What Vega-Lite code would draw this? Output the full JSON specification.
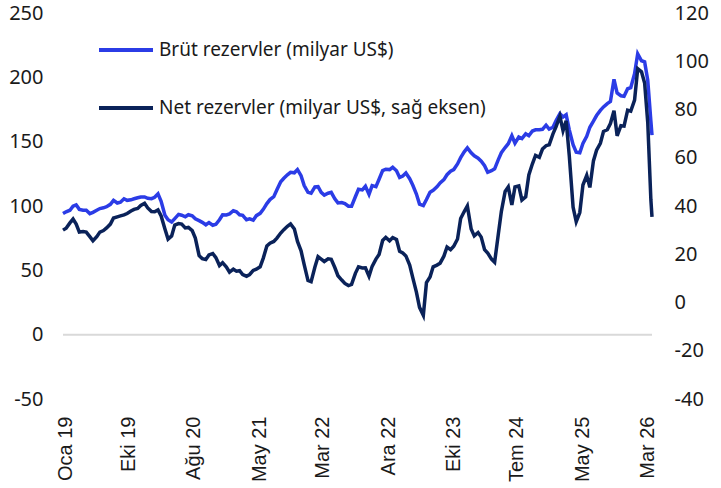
{
  "$schema": "https://vega.github.io/schema/vega-lite/v6.json",
  "width": 589,
  "height": 386,
  "autosize": {"type": "none"},
  "padding": {"left": 63, "top": 13, "right": 69, "bottom": 89},
  "background": "white",
  "config": {"view": {"stroke": null}},
  "data": {"values": [
    {"d":"2019-01-01","b":94.1,"n":30.0},{"d":"2019-01-15","b":95.5,"n":30.8},
    {"d":"2019-02-01","b":96.7,"n":33.0},{"d":"2019-02-15","b":99.8,"n":34.6},
    {"d":"2019-03-01","b":100.9,"n":32.5},{"d":"2019-03-15","b":97.4,"n":29.2},
    {"d":"2019-04-01","b":96.7,"n":29.4},{"d":"2019-04-15","b":96.7,"n":29.2},
    {"d":"2019-05-01","b":94.1,"n":27.3},{"d":"2019-05-15","b":95.1,"n":25.6},
    {"d":"2019-06-01","b":96.7,"n":27.3},{"d":"2019-06-15","b":98.0,"n":29.2},
    {"d":"2019-07-01","b":98.6,"n":29.8},{"d":"2019-07-15","b":99.4,"n":30.9},
    {"d":"2019-08-01","b":101.3,"n":32.5},{"d":"2019-08-15","b":104.4,"n":35.0},
    {"d":"2019-09-01","b":102.3,"n":35.5},{"d":"2019-09-15","b":102.9,"n":35.9},
    {"d":"2019-10-01","b":105.6,"n":36.3},{"d":"2019-10-15","b":104.4,"n":36.9},
    {"d":"2019-11-01","b":104.8,"n":37.9},{"d":"2019-11-15","b":105.6,"n":38.6},
    {"d":"2019-12-01","b":106.4,"n":39.0},{"d":"2019-12-15","b":107.0,"n":40.2},
    {"d":"2020-01-01","b":107.0,"n":41.1},{"d":"2020-01-15","b":106.0,"n":39.2},
    {"d":"2020-02-01","b":105.7,"n":37.7},{"d":"2020-02-15","b":106.8,"n":37.6},
    {"d":"2020-03-01","b":109.5,"n":38.4},{"d":"2020-03-15","b":103.7,"n":35.9},
    {"d":"2020-04-01","b":92.8,"n":30.5},{"d":"2020-04-15","b":89.3,"n":26.3},
    {"d":"2020-05-01","b":87.6,"n":27.6},{"d":"2020-05-15","b":90.2,"n":32.1},
    {"d":"2020-06-01","b":93.5,"n":32.7},{"d":"2020-06-15","b":92.8,"n":32.5},
    {"d":"2020-07-01","b":91.6,"n":30.9},{"d":"2020-07-15","b":93.2,"n":31.1},
    {"d":"2020-08-01","b":92.4,"n":29.8},{"d":"2020-08-15","b":90.0,"n":26.7},
    {"d":"2020-09-01","b":88.6,"n":19.4},{"d":"2020-09-15","b":87.3,"n":18.2},
    {"d":"2020-10-01","b":85.4,"n":17.8},{"d":"2020-10-15","b":87.1,"n":19.7},
    {"d":"2020-11-01","b":85.0,"n":20.3},{"d":"2020-11-15","b":85.8,"n":18.6},
    {"d":"2020-12-01","b":89.3,"n":15.3},{"d":"2020-12-15","b":93.2,"n":16.5},
    {"d":"2021-01-01","b":93.0,"n":14.7},{"d":"2021-01-15","b":93.9,"n":12.6},
    {"d":"2021-02-01","b":96.3,"n":13.8},{"d":"2021-02-15","b":95.5,"n":13.0},
    {"d":"2021-03-01","b":93.2,"n":13.2},{"d":"2021-03-15","b":92.8,"n":11.6},
    {"d":"2021-04-01","b":89.3,"n":10.9},{"d":"2021-04-15","b":90.0,"n":11.6},
    {"d":"2021-05-01","b":89.0,"n":13.3},{"d":"2021-05-15","b":92.5,"n":13.8},
    {"d":"2021-06-01","b":94.3,"n":14.8},{"d":"2021-06-15","b":97.4,"n":18.4},
    {"d":"2021-07-01","b":101.9,"n":23.4},{"d":"2021-07-15","b":105.0,"n":24.6},
    {"d":"2021-08-01","b":107.2,"n":25.3},{"d":"2021-08-15","b":112.6,"n":26.7},
    {"d":"2021-09-01","b":118.8,"n":28.8},{"d":"2021-09-15","b":121.5,"n":30.2},
    {"d":"2021-10-01","b":124.2,"n":31.6},{"d":"2021-10-15","b":126.2,"n":32.6},
    {"d":"2021-11-01","b":125.8,"n":30.5},{"d":"2021-11-15","b":128.3,"n":25.3},
    {"d":"2021-12-01","b":123.6,"n":21.4},{"d":"2021-12-15","b":115.9,"n":15.7},
    {"d":"2022-01-01","b":110.6,"n":9.1},{"d":"2022-01-15","b":109.9,"n":8.6},
    {"d":"2022-02-01","b":114.8,"n":14.7},{"d":"2022-02-15","b":115.0,"n":19.0},
    {"d":"2022-03-01","b":110.6,"n":18.0},{"d":"2022-03-15","b":108.5,"n":17.0},
    {"d":"2022-04-01","b":109.9,"n":18.1},{"d":"2022-04-15","b":110.6,"n":17.9},
    {"d":"2022-05-01","b":105.6,"n":14.5},{"d":"2022-05-15","b":102.4,"n":11.1},
    {"d":"2022-06-01","b":102.7,"n":9.3},{"d":"2022-06-15","b":101.9,"n":7.9},
    {"d":"2022-07-01","b":99.8,"n":7.0},{"d":"2022-07-15","b":99.8,"n":7.5},
    {"d":"2022-08-01","b":107.2,"n":12.1},{"d":"2022-08-15","b":113.0,"n":14.8},
    {"d":"2022-09-01","b":112.5,"n":14.3},{"d":"2022-09-15","b":115.3,"n":14.4},
    {"d":"2022-10-01","b":109.1,"n":10.9},{"d":"2022-10-15","b":115.9,"n":15.0},
    {"d":"2022-11-01","b":115.1,"n":18.0},{"d":"2022-11-15","b":120.8,"n":19.9},
    {"d":"2022-12-01","b":127.5,"n":25.7},{"d":"2022-12-15","b":128.6,"n":27.0},
    {"d":"2023-01-01","b":128.3,"n":25.6},{"d":"2023-01-15","b":130.1,"n":26.9},
    {"d":"2023-02-01","b":127.4,"n":26.1},{"d":"2023-02-15","b":122.2,"n":21.2},
    {"d":"2023-03-01","b":123.3,"n":20.5},{"d":"2023-03-15","b":125.6,"n":19.3},
    {"d":"2023-04-01","b":121.2,"n":15.5},{"d":"2023-04-15","b":116.1,"n":10.2},
    {"d":"2023-05-01","b":109.3,"n":4.3},{"d":"2023-05-15","b":101.5,"n":-2.0},
    {"d":"2023-06-01","b":100.3,"n":-5.3},{"d":"2023-06-15","b":105.0,"n":8.3},
    {"d":"2023-07-01","b":110.7,"n":10.6},{"d":"2023-07-15","b":112.2,"n":14.8},
    {"d":"2023-08-01","b":114.9,"n":15.5},{"d":"2023-08-15","b":117.9,"n":16.3},
    {"d":"2023-09-01","b":120.5,"n":19.2},{"d":"2023-09-15","b":124.3,"n":23.0},
    {"d":"2023-10-01","b":127.0,"n":21.9},{"d":"2023-10-15","b":128.3,"n":23.3},
    {"d":"2023-11-01","b":132.7,"n":26.3},{"d":"2023-11-15","b":137.6,"n":34.8},
    {"d":"2023-12-01","b":142.1,"n":37.7},{"d":"2023-12-15","b":145.2,"n":40.0},
    {"d":"2024-01-01","b":141.4,"n":30.5},{"d":"2024-01-15","b":139.0,"n":27.6},
    {"d":"2024-02-01","b":137.2,"n":29.0},{"d":"2024-02-15","b":134.8,"n":27.1},
    {"d":"2024-03-01","b":131.3,"n":21.9},{"d":"2024-03-15","b":126.2,"n":20.5},
    {"d":"2024-04-01","b":127.4,"n":18.0},{"d":"2024-04-15","b":128.9,"n":16.7},
    {"d":"2024-05-01","b":135.9,"n":28.0},{"d":"2024-05-15","b":141.4,"n":37.7},
    {"d":"2024-06-01","b":145.4,"n":46.0},{"d":"2024-06-15","b":148.4,"n":47.9},
    {"d":"2024-07-01","b":154.6,"n":40.4},{"d":"2024-07-15","b":148.8,"n":47.9},
    {"d":"2024-08-01","b":153.6,"n":48.3},{"d":"2024-08-15","b":152.4,"n":42.5},
    {"d":"2024-09-01","b":156.1,"n":43.8},{"d":"2024-09-15","b":154.6,"n":52.9},
    {"d":"2024-10-01","b":158.3,"n":57.5},{"d":"2024-10-15","b":159.2,"n":61.0},
    {"d":"2024-11-01","b":159.2,"n":60.2},{"d":"2024-11-15","b":159.6,"n":63.6},
    {"d":"2024-12-01","b":162.8,"n":65.0},{"d":"2024-12-15","b":159.8,"n":65.4},
    {"d":"2025-01-01","b":161.2,"n":69.9},{"d":"2025-01-15","b":166.4,"n":72.9},
    {"d":"2025-02-01","b":171.7,"n":77.2},{"d":"2025-02-15","b":169.2,"n":71.2},
    {"d":"2025-03-01","b":170.9,"n":75.3},{"d":"2025-03-15","b":159.2,"n":60.8},
    {"d":"2025-04-01","b":147.7,"n":39.5},{"d":"2025-04-15","b":141.8,"n":33.5},
    {"d":"2025-05-01","b":141.4,"n":37.3},{"d":"2025-05-15","b":148.6,"n":48.7},
    {"d":"2025-06-01","b":154.2,"n":52.7},{"d":"2025-06-15","b":161.2,"n":47.7},
    {"d":"2025-07-01","b":165.9,"n":58.7},{"d":"2025-07-15","b":170.3,"n":63.1},
    {"d":"2025-08-01","b":174.3,"n":66.0},{"d":"2025-08-15","b":177.0,"n":70.9},
    {"d":"2025-09-01","b":179.6,"n":71.6},{"d":"2025-09-15","b":181.2,"n":74.2},
    {"d":"2025-10-01","b":198.5,"n":79.5},{"d":"2025-10-15","b":187.8,"n":69.1},
    {"d":"2025-11-01","b":185.7,"n":73.3},{"d":"2025-11-15","b":185.3,"n":73.1},
    {"d":"2025-12-01","b":191.1,"n":79.7},{"d":"2025-12-15","b":191.9,"n":79.3},
    {"d":"2026-01-01","b":202.8,"n":83.9},{"d":"2026-01-15","b":218.3,"n":96.9},
    {"d":"2026-02-01","b":212.9,"n":95.6},{"d":"2026-02-15","b":212.0,"n":91.0},
    {"d":"2026-03-01","b":197.7,"n":74.6},{"d":"2026-03-15","b":165.9,"n":42.5},
    {"d":"2026-03-20","b":155.0,"n":35.5}
  ]},
  "layer": [
    {
      "data": {"values": [{}]},
      "mark": {"type": "rule", "color": "#d9d9d9", "strokeWidth": 2},
      "encoding": {
        "y": {"datum": 0, "type": "quantitative", "scale": {"domain": [-50, 250], "nice": false, "zero": false}, "axis": null}
      }
    },
    {
      "mark": {"type": "line", "strokeWidth": 3.5},
      "encoding": {
        "x": {
          "field": "d", "type": "temporal",
          "scale": {"type": "utc", "domain": [{"year": 2019, "month": 1, "date": 1, "utc": true}, {"year": 2026, "month": 3, "date": 20, "utc": true}]},
          "axis": {
            "values": [
              {"year": 2019, "month": 1, "date": 10, "utc": true},
              {"year": 2019, "month": 10, "date": 19, "utc": true},
              {"year": 2020, "month": 8, "date": 5, "utc": true},
              {"year": 2021, "month": 5, "date": 28, "utc": true},
              {"year": 2022, "month": 3, "date": 9, "utc": true},
              {"year": 2022, "month": 12, "date": 25, "utc": true},
              {"year": 2023, "month": 10, "date": 12, "utc": true},
              {"year": 2024, "month": 7, "date": 24, "utc": true},
              {"year": 2025, "month": 5, "date": 15, "utc": true},
              {"year": 2026, "month": 3, "date": 1, "utc": true}
            ],
            "labelExpr": "['Oca','Şub','Mar','Nis','May','Haz','Tem','Ağu','Eyl','Eki','Kas','Ara'][utcmonth(datum.value)] + ' ' + utcFormat(datum.value, '%y')",
            "labelAngle": 270,
            "labelFont": "Liberation Sans",
            "labelFontSize": 20,
            "labelColor": "#1a1a1a",
            "labelPadding": 17,
            "labelOverlap": false,
            "labelFlush": false,
            "labelBound": false,
            "domain": false,
            "ticks": false,
            "grid": false,
            "title": null
          }
        },
        "y": {
          "field": "b", "type": "quantitative",
          "scale": {"domain": [-50, 250], "nice": false, "zero": false},
          "axis": {"orient": "left", "values": [-50, 0, 50, 100, 150, 200, 250], "labelExpr": "toString(datum.value)", "title": null, "domain": false, "ticks": false, "grid": false, "labelFont": "Noto Sans", "labelFontSize": 20, "labelColor": "#1a1a1a", "labelPadding": 20}
        },
        "color": {
          "datum": "Brüt rezervler (milyar US$)", "type": "nominal",
          "scale": {"domain": ["Brüt rezervler (milyar US$)", "Net rezervler (milyar US$, sağ eksen)"], "range": ["#2B3CE6", "#0A2259"]},
          "legend": {"orient": "none", "legendX": 34, "legendY": 8, "direction": "vertical", "title": null, "symbolType": "stroke", "symbolSize": 2916, "symbolStrokeWidth": 4, "labelFont": "Noto Sans", "labelFontSize": 19, "labelColor": "#1a1a1a", "rowPadding": 19, "labelOffset": 4, "padding": 0, "labelLimit": 500}
        }
      }
    },
    {
      "mark": {"type": "line", "strokeWidth": 3.5},
      "encoding": {
        "x": {"field": "d", "type": "temporal"},
        "y": {
          "field": "n", "type": "quantitative",
          "scale": {"domain": [-40, 120], "nice": false, "zero": false},
          "axis": {"orient": "right", "values": [-40, -20, 0, 20, 40, 60, 80, 100, 120], "labelExpr": "toString(datum.value)", "title": null, "domain": false, "ticks": false, "grid": false, "labelFont": "Noto Sans", "labelFontSize": 20, "labelColor": "#1a1a1a", "labelPadding": 22}
        },
        "color": {"datum": "Net rezervler (milyar US$, sağ eksen)", "type": "nominal"}
      }
    }
  ],
  "resolve": {"scale": {"y": "independent"}}
}
